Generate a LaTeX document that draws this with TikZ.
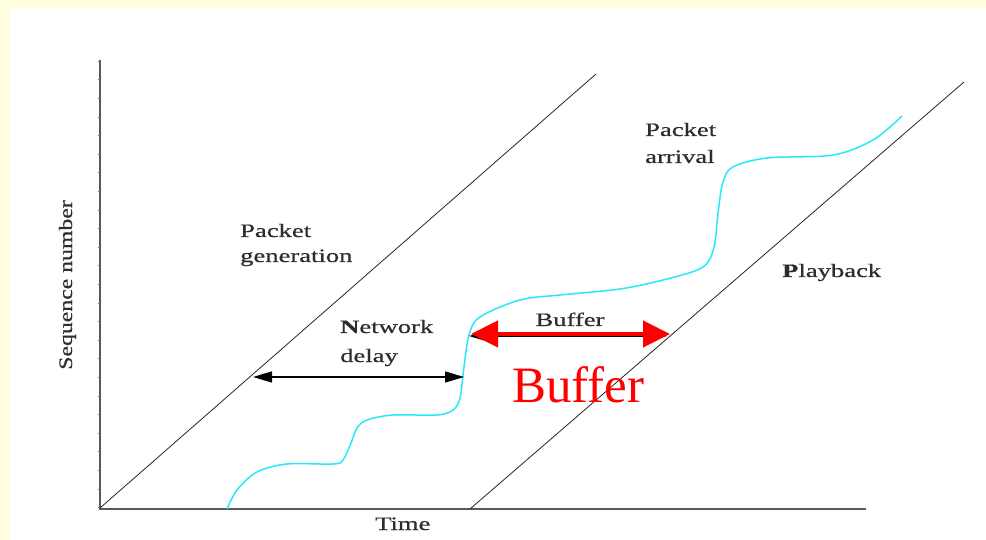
\documentclass[tikz,border=0pt]{standalone}
\usepackage{fontspec}
\setmainfont{Liberation Serif}
\newfontfamily\lblfont[FakeStretch=1.4,FakeBold=0.6]{Liberation Serif}
\newfontfamily\seqfont[FakeStretch=1.25,FakeBold=0.6]{Liberation Serif}
\usetikzlibrary{arrows.meta}
\definecolor{bgyellow}{RGB}{255,255,224}
\definecolor{curvecyan}{RGB}{40,232,250}
\definecolor{txtgray}{RGB}{45,45,45}
\begin{document}
\begin{tikzpicture}[x=1pt,y=-1pt,
  lbl/.style={font=\lblfont\fontsize{19}{#1}\selectfont, inner sep=0pt, align=left, text=txtgray},
  lbl/.default=27,
  axis/.style={draw=black!65, line width=1.3pt},
  ytick/.style={draw=black!55, line width=0.5pt},
  diag/.style={draw=black!85, line width=0.8pt},
  arrival/.style={draw=curvecyan, line width=1.5pt},
  delayarrow/.style={draw=black, line width=1.4pt, {Triangle[length=19pt,width=11pt]}-{Triangle[length=19pt,width=11pt]}},
  bufarrow/.style={draw=red, line width=4.5pt, {Triangle[length=27pt,width=26pt]}-{Triangle[length=27pt,width=26pt]}}
]
\useasboundingbox (0,0) rectangle (986,540);
\fill[bgyellow] (0,0) rectangle (986,540);
\fill[white] (10,8) rectangle (986,540);

% axes
\coordinate (ytop) at (100,60);
\coordinate (O) at (100,509);
\coordinate (xend) at (866,509);
\draw[axis] (ytop) -- (O) -- (xend);
\foreach \k in {0,...,24} \draw[ytick] (100,61+18.6*\k) -- ++(-2,0);

% packet generation and playback lines
\coordinate (g0) at (100,508);
\coordinate (g1) at (596,74);
\draw[diag] (g0) -- (g1);
\coordinate (p0) at (470,509);
\coordinate (p1) at (964,82);
\draw[diag] (p0) -- (p1);

% packet arrival curve
\draw[arrival] plot[smooth, tension=0.55] coordinates {
  (227,509) (237,490) (257,472) (287,464) (333,464) (343,460) (351,443)
  (357,428) (367,420) (393,415) (437,415) (453,410) (460,398) (464,367)
  (469,335) (480,317) (520,300) (560,295) (620,289) (667,279) (703,267)
  (714,247) (718,213) (723,182) (733,167) (767,158) (833,155) (873,140) (902,116)};

% labels
\node[font=\seqfont\fontsize{19}{22}\selectfont, text=txtgray, inner sep=0pt, rotate=90, anchor=base] (seq) at (72,285) {Sequence number};
\node[lbl=25, anchor=base west] (gen) at (240,262) {Packet\\generation};
\node[lbl, anchor=base west] (arr) at (645,163) {Packet\\arrival};
\node[lbl=29, anchor=base west] (nd) at (340,362) {\textbf{N}etwork\\delay};
\node[lbl, anchor=base west] (pb) at (782,277) {\textbf{P}layback};
\node[lbl, anchor=base west] (time) at (375,530) {Time};
\node[lbl, anchor=base] (buflbl) at (570,326) {Buffer};
\node[font=\fontsize{51}{51}\selectfont, text=red, inner sep=0pt, anchor=base west] (bigbuf) at (512,402) {Buffer};

% network delay arrow
\coordinate (nd1) at (253,377);
\coordinate (nd2) at (464,377);
\draw[delayarrow] (nd1) -- (nd2);

% buffer arrows (original black one underneath, red on top)
\coordinate (bb1) at (469,336);
\coordinate (bb2) at (667,336);
\draw[delayarrow] (bb1) -- (bb2);
\coordinate (b1) at (471,334);
\coordinate (b2) at (670,334);
\draw[bufarrow] (b1) -- (b2);
\end{tikzpicture}
\end{document}
